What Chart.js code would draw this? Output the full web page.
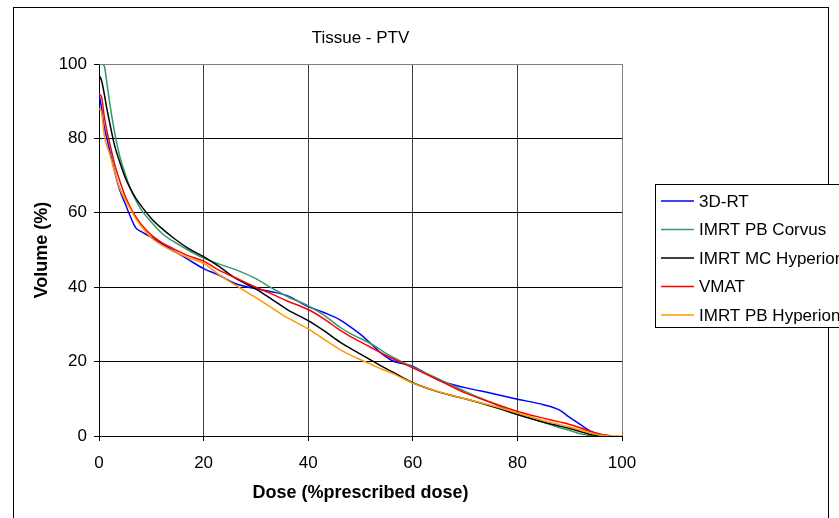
<!DOCTYPE html>
<html>
<head>
<meta charset="utf-8">
<script src="https://cdn.jsdelivr.net/npm/chart.js@4/dist/chart.umd.min.js"></script>
<style>
html,body{margin:0;padding:0;background:#fff;}
canvas{display:block;}
</style>
</head>
<body>
<canvas id="c" width="839" height="518"></canvas>
<script>
const chartTitle = "Tissue - PTV";
const xTitle = "Dose (%prescribed dose)";
const yTitle = "Volume (%)";
const seriesNames = ["3D-RT", "IMRT PB Corvus", "IMRT MC Hyperion", "VMAT", "IMRT PB Hyperion"];
const seriesColors = ["#0000FF", "#339966", "#000000", "#FF0000", "#FF9900"];
const xTicks = [0, 20, 40, 60, 80, 100];
const yTicks = [0, 20, 40, 60, 80, 100];

const dose = [0, 0.5, 1, 1.5, 2, 3, 4, 5, 6, 7, 8, 10, 12, 14, 17, 20, 23, 26, 30, 33, 36, 40, 43, 46, 48, 50, 52, 54, 56, 60, 65, 70, 75, 80, 85, 88, 90, 92, 94, 96, 98, 100];

const vol3DRT = [92, 88, 83, 80, 77, 71, 66, 62.5, 59, 56, 55, 53.4, 51.7, 50, 47.5, 45, 43.2, 41, 39.6, 38.8, 37.7, 34.8, 33.2, 31.3, 29.4, 27.3, 24.8, 22.2, 20.3, 18.7, 15, 13, 11.5, 9.9, 8.4, 7, 5, 3.1, 1.3, 0.4, 0, null];
const volPBCorvus = [100, 100, 99.5, 95, 90, 81.5, 75, 70.5, 66.5, 63.5, 61, 57.5, 54.5, 52.5, 50, 47.8, 46.2, 44.8, 42.3, 39.8, 37.5, 35, 32.5, 29.3, 27.6, 26.2, 24.8, 23, 21.3, 18.5, 15.3, 12, 9, 5.8, 3.7, 2.3, 1.5, 0.6, 0.1, 0, null, null];
const volMCHyperion = [97, 95.5, 92, 88, 84.5, 78, 73.5, 69.5, 66.5, 64, 62, 58.5, 55.8, 53.5, 50.5, 48.2, 45.5, 42.5, 39.5, 36.8, 34, 31, 28.3, 25.3, 23.6, 22, 20.4, 18.8, 17.3, 14.3, 11.8, 10, 8, 5.8, 3.7, 2.7, 2, 1.2, 0.4, 0, null, null];
const volVMAT = [92, 91, 86, 82, 79, 73, 68.5, 64.5, 61.5, 59, 57, 54, 52, 50.5, 48.5, 47, 44.5, 42.6, 40, 38.2, 36.3, 34, 31.5, 28.5, 26.8, 25.3, 23.8, 22.3, 20.9, 18.3, 15, 11.6, 9, 6.6, 4.8, 3.8, 3.1, 2.2, 1.2, 0.4, 0, null];
const volPBHyperion = [88, 87, 81, 78, 76, 71, 66.5, 63.5, 61, 58.5, 56.5, 53.3, 51.3, 49.8, 48, 46.4, 43.3, 40.6, 37.2, 34.5, 31.8, 28.8, 26, 23.3, 21.8, 20.5, 19.3, 18, 16.9, 14.2, 11.9, 10, 8.2, 6.2, 4.1, 3.1, 2.4, 1.6, 0.8, 0.2, 0, 0];

const seriesValues = [vol3DRT, volPBCorvus, volMCHyperion, volVMAT, volPBHyperion];
const FONT = 'Arial, "Liberation Sans", sans-serif';

const datasets = seriesNames.map((name, i) => ({
  label: name,
  data: dose.map((d, j) => ({x: d, y: seriesValues[i][j]})),
  borderColor: seriesColors[i],
  backgroundColor: seriesColors[i],
  borderWidth: 1.5,
  pointRadius: 0,
  cubicInterpolationMode: 'monotone',
  spanGaps: false,
  fill: false,
  order: seriesNames.length - i
}));

const frameAndLegend = {
  id: 'frameAndLegend',
  beforeDraw(chart) {
    const ctx = chart.ctx;
    ctx.save();
    ctx.fillStyle = '#fff';
    ctx.fillRect(0, 0, chart.width, chart.height);
    ctx.restore();
  },
  afterDraw(chart) {
    const ctx = chart.ctx;
    ctx.save();
    // outer frame
    ctx.strokeStyle = '#000';
    ctx.lineWidth = 1;
    ctx.strokeRect(13.5, 7.5, 815, 520);
    // legend
    const ds = chart.data.datasets;
    const bx = 655.5, by = 184.5, bh = 143;
    ctx.fillStyle = '#fff';
    ctx.fillRect(bx, by, 300, bh);
    ctx.strokeRect(bx, by, 300, bh);
    ctx.font = '17px ' + FONT;
    ctx.textBaseline = 'middle';
    ctx.textAlign = 'left';
    ds.forEach((d, i) => {
      const y = 201 + i * 28.5;
      ctx.strokeStyle = d.borderColor;
      ctx.lineWidth = 1.5;
      ctx.beginPath();
      ctx.moveTo(661, y);
      ctx.lineTo(694, y);
      ctx.stroke();
      ctx.fillStyle = '#000';
      ctx.fillText(d.label, 699, y + 1);
    });
    ctx.restore();
  }
};

new Chart(document.getElementById('c'), {
  type: 'line',
  data: { datasets },
  plugins: [frameAndLegend],
  options: {
    responsive: false,
    devicePixelRatio: 1,
    animation: false,
    layout: { padding: { left: 0, right: 217, top: 0, bottom: 0 } },
    plugins: {
      legend: { display: false },
      tooltip: { enabled: false },
      title: {
        display: true,
        fullSize: false,
        text: chartTitle,
        color: '#000',
        font: { family: FONT, size: 17, weight: 'normal', lineHeight: 1.2 },
        padding: { top: 28, bottom: 15.6 }
      }
    },
    scales: {
      x: {
        type: 'linear',
        min: 0, max: 100,
        afterBuildTicks(scale) { scale.ticks = xTicks.map(v => ({value: v})); },
        afterFit(scale) { scale.height = 82; },
        ticks: { color: '#000', font: { family: FONT, size: 17 }, padding: 12, maxRotation: 0 },
        grid: {
          color: ctx => (ctx.tick && ctx.tick.value === 100) ? '#808080' : '#404040',
          tickColor: '#000',
          tickLength: 5,
          lineWidth: 1
        },
        border: { color: '#000', width: 1 },
        title: {
          display: true, text: xTitle, color: '#000',
          font: { family: FONT, size: 18, weight: 'bold', lineHeight: 1.2 },
          padding: { top: 0, bottom: 14 }
        }
      },
      y: {
        type: 'linear',
        min: 0, max: 100,
        afterBuildTicks(scale) { scale.ticks = yTicks.map(v => ({value: v})); },
        afterFit(scale) { scale.width = 99; },
        ticks: { color: '#000', font: { family: FONT, size: 17 }, padding: 7 },
        grid: {
          color: ctx => (ctx.tick && ctx.tick.value === 100) ? '#808080' : '#000',
          tickColor: '#000',
          tickLength: 5,
          lineWidth: 1
        },
        border: { color: '#000', width: 1 },
        title: {
          display: true, text: yTitle, color: '#000',
          font: { family: FONT, size: 18, weight: 'bold', lineHeight: 1.2 },
          padding: { top: 31, bottom: 0 }
        }
      }
    }
  }
});
</script>
</body>
</html>
